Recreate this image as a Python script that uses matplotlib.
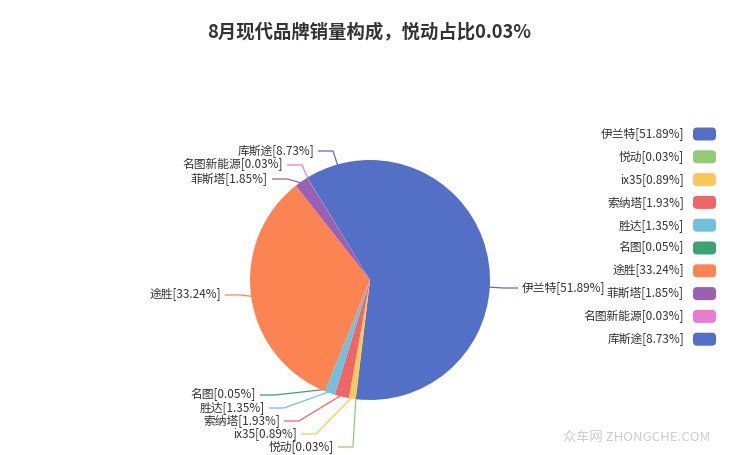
import matplotlib
matplotlib.use("Agg")
import matplotlib.pyplot as plt
from matplotlib.patches import FancyBboxPatch
import numpy as np

plt.rcParams['font.family'] = ['Noto Sans CJK SC', 'DejaVu Sans']

title = "8月现代品牌销量构成，悦动占比0.03%"
names = ["伊兰特", "悦动", "ix35", "索纳塔", "胜达", "名图", "途胜", "菲斯塔", "名图新能源", "库斯途"]
values = [51.89, 0.03, 0.89, 1.93, 1.35, 0.05, 33.24, 1.85, 0.03, 8.73]
colors = ["#5470c6", "#91cc75", "#fac858", "#ee6666", "#73c0de", "#3ba272",
          "#fc8452", "#9a60b4", "#ea7ccc", "#5470c6"]

W, H = 740, 455
# label layout in pixel coords: (text x, text y, side)
label_pos = [(522, 288, 'L'), (334, 447, 'R'), (297, 434, 'R'), (280, 421, 'R'),
             (265, 408, 'R'), (256, 395, 'R'), (221, 295, 'R'), (268, 179, 'R'),
             (283, 165, 'R'), (314, 151, 'R')]

fig = plt.figure(figsize=(7.4, 4.55), dpi=100)
ax = fig.add_axes([0, 0, 1, 1])

cx, cy, r = 370, 280, 120
def Y(yp):
    return H - yp

wedges, _ = ax.pie(values, colors=colors, startangle=90, counterclock=False,
                   center=(cx, Y(cy)), radius=r, frame=True,
                   wedgeprops=dict(linewidth=0, antialiased=True))
ax.set_xlim(0, W)
ax.set_ylim(0, H)
ax.set_aspect('auto')
ax.axis('off')

total = sum(values)
cum = 0
for name, v, col, (tx, ty, side) in zip(names, values, colors, label_pos):
    mid = 90 - (cum + v / 2) / total * 360
    cum += v
    a = np.deg2rad(mid)
    ex, ey = cx + (r - 2) * np.cos(a), cy - (r - 2) * np.sin(a)
    if side == 'R':
        end = tx + 4
        elbow = end + 15
        ha = 'right'
    else:
        end = tx - 4
        elbow = end - 15
        ha = 'left'
    ax.plot([ex, elbow, end], [Y(ey), Y(ty), Y(ty)], color=col, lw=0.9,
            solid_capstyle='butt', zorder=0.5)
    ax.text(tx, Y(ty), f"{name}[{v:.2f}%]", ha=ha, va='center',
            fontsize=8.5, color='#333333')

# legend
ly0, dy = 134, 22.8
for i, (name, v, col) in enumerate(zip(names, values, colors)):
    y = ly0 + i * dy
    ax.text(684, Y(y), f"{name}[{v:.2f}%]", ha='right', va='center',
            fontsize=8.5, color='#333333')
    box = FancyBboxPatch((693, Y(y) - 6.5), 23, 13,
                         boxstyle="round,pad=0,rounding_size=4",
                         facecolor=col, edgecolor='none')
    ax.add_patch(box)

ax.text(369, Y(32), title, ha='center', va='center', fontsize=13.2,
        fontweight='bold', color='#333333')

ax.text(637, Y(437), "众车网 ZHONGCHE.COM", ha='center', va='center',
        fontsize=9.5, color='#cccccc')

fig.savefig("out.png", dpi=100)
